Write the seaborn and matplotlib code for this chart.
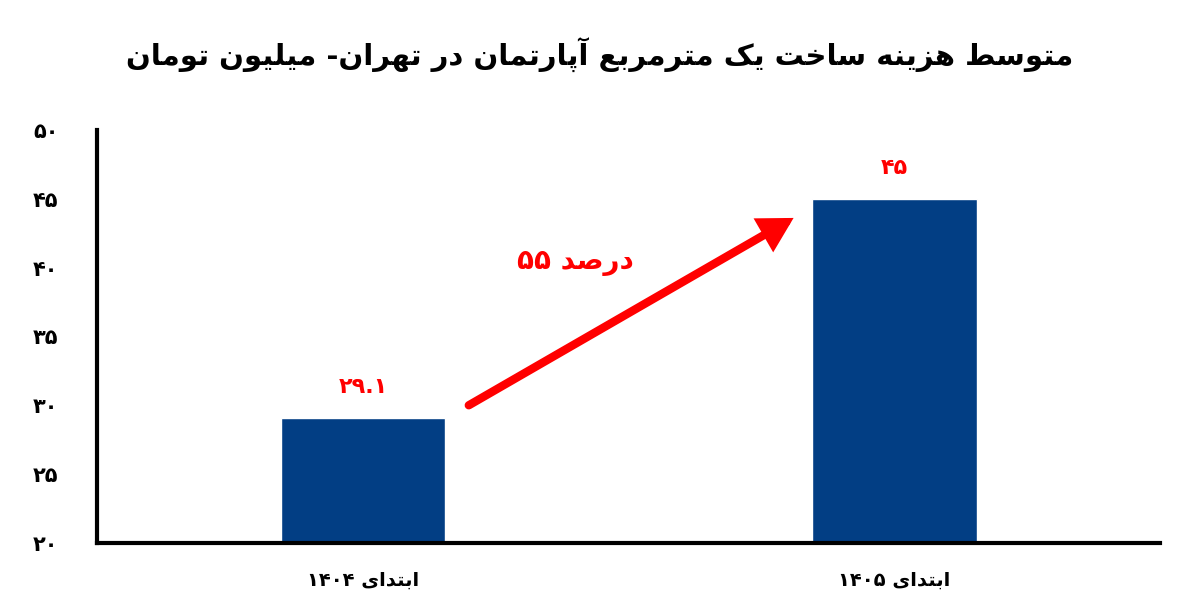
import matplotlib
matplotlib.use("Agg")
import matplotlib.pyplot as plt
import seaborn as sns
import pandas as pd
import re

categories = ["ابتدای ۱۴۰۴", "ابتدای ۱۴۰۵"]
values = [29.1, 45]
value_labels = ["۲۹.۱", "۴۵"]
yticks = [20, 25, 30, 35, 40, 45, 50]
ytick_labels = ["۲۰", "۲۵", "۳۰", "۳۵", "۴۰", "۴۵", "۵۰"]
title = "متوسط هزینه ساخت یک مترمربع آپارتمان در تهران- میلیون تومان"
growth = "درصد ۵۵"

FORMS = {
 'ا':(0xFE8D,0xFE8E,None,None),'آ':(0xFE81,0xFE82,None,None),
 'ب':(0xFE8F,0xFE90,0xFE91,0xFE92),'پ':(0xFB56,0xFB57,0xFB58,0xFB59),
 'ت':(0xFE95,0xFE96,0xFE97,0xFE98),'خ':(0xFEA5,0xFEA6,0xFEA7,0xFEA8),
 'د':(0xFEA9,0xFEAA,None,None),'ر':(0xFEAD,0xFEAE,None,None),
 'ز':(0xFEAF,0xFEB0,None,None),'س':(0xFEB1,0xFEB2,0xFEB3,0xFEB4),
 'ص':(0xFEB9,0xFEBA,0xFEBB,0xFEBC),'ط':(0xFEC1,0xFEC2,0xFEC3,0xFEC4),
 'ع':(0xFEC9,0xFECA,0xFECB,0xFECC),'ک':(0xFB8E,0xFB8F,0xFB90,0xFB91),
 'ل':(0xFEDD,0xFEDE,0xFEDF,0xFEE0),'م':(0xFEE1,0xFEE2,0xFEE3,0xFEE4),
 'ن':(0xFEE5,0xFEE6,0xFEE7,0xFEE8),'ه':(0xFEE9,0xFEEA,0xFEEB,0xFEEC),
 'و':(0xFEED,0xFEEE,None,None),'ی':(0xFBFC,0xFBFD,0xFBFE,0xFBFF),
}
def joins_left(c):
    return c in FORMS and FORMS[c][2] is not None
def shape(s):
    out = []
    for i, c in enumerate(s):
        if c not in FORMS:
            out.append(c); continue
        prev = s[i-1] if i > 0 else ''
        nxt = s[i+1] if i+1 < len(s) else ''
        p = joins_left(prev)
        n = joins_left(c) and nxt in FORMS
        iso, fin, ini, med = FORMS[c]
        ch = med if (p and n) else fin if p else ini if n else iso
        out.append(chr(ch))
    res = ''.join(out)[::-1]
    return re.sub(r'[۰-۹.]+', lambda m: m.group(0)[::-1], res)

sns.set_style("white")
plt.rcParams['font.family'] = ['DejaVu Sans']

df = pd.DataFrame({"cat": [shape(c) for c in categories], "val": values})
fig, ax = plt.subplots(figsize=(12, 6.15), dpi=100)
fig.subplots_adjust(left=0.081, right=0.967, top=0.789, bottom=0.117)
sns.barplot(data=df, x="cat", y="val", color="#023e84", width=0.31, ax=ax, saturation=1)
ax.set_ylim(20, 50)
ax.set_xlim(-0.5, 1.5)
ax.set_yticks(yticks)
ax.set_yticklabels(ytick_labels, fontsize=15, fontweight="bold", color="black")
ax.tick_params(axis='x', labelsize=14, length=0, pad=20, labelcolor="black")
for lab in ax.get_xticklabels():
    lab.set_fontweight("bold")
ax.tick_params(axis='y', length=0, pad=28)
ax.set_xlabel(""); ax.set_ylabel("")
for s in ["top", "right"]:
    ax.spines[s].set_visible(False)
for s in ["left", "bottom"]:
    ax.spines[s].set_linewidth(3); ax.spines[s].set_color("black")
for i, (v, l) in enumerate(zip(values, value_labels)):
    ax.text(i, v + 1.5, l, ha="center", va="bottom", color="red", fontsize=16, fontweight="bold")
ax.annotate("", xy=(0.81, 43.6), xytext=(0.199, 30.0),
            arrowprops=dict(arrowstyle="-|>,head_width=0.9,head_length=1.6", color="red", lw=6,
                            shrinkA=0, shrinkB=0, joinstyle="miter"))
ax.text(0.40, 40.4, shape(growth), color="red", fontsize=20, fontweight="bold", ha="center", va="center")
fig.text(0.5, 0.91, shape(title), ha="center", va="center", fontsize=21, fontweight="bold", color="black")
fig.savefig("out.png", dpi=100)
